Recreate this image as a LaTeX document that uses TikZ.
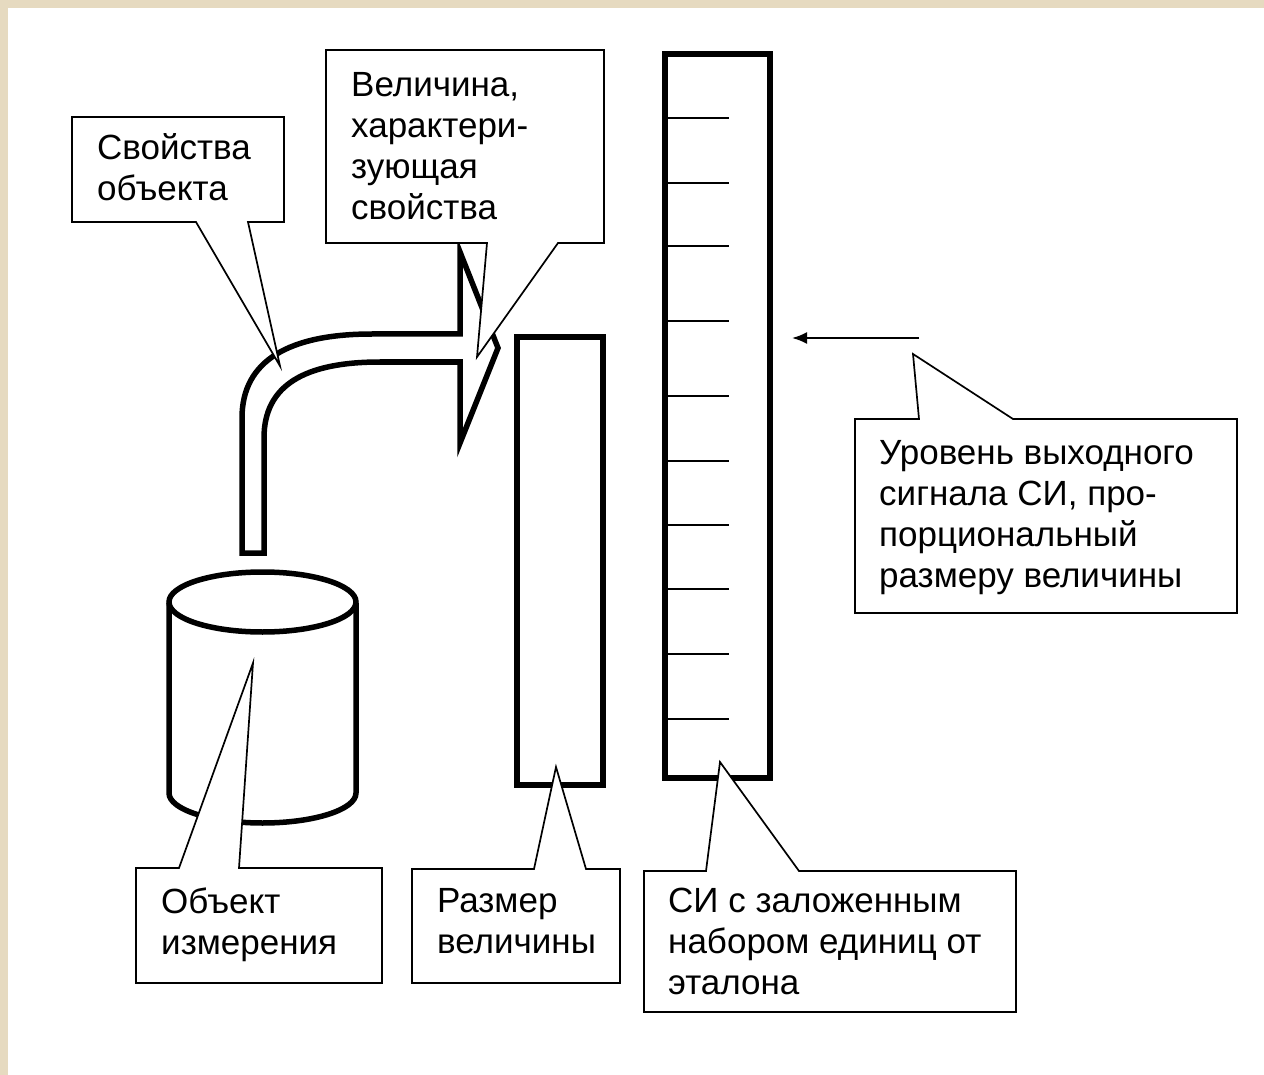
\documentclass[tikz,border=0pt]{standalone}
\usepackage{fontspec}
\setmainfont{Liberation Sans}
\usetikzlibrary{arrows.meta}
\definecolor{beigeframe}{RGB}{230,218,192}
\begin{document}
\begin{tikzpicture}[x=1pt,y=-1pt,
  thick line/.style={draw=black, line width=5.5pt, line join=miter},
  callout/.style={draw=black, fill=white, line width=1.7pt, line join=miter},
  tick/.style={draw=black, line width=2.2pt},
  label/.style={anchor=north west, inner sep=0pt, align=left, font=\fontsize{35}{41}\selectfont}]
\useasboundingbox (0,0) rectangle (1264,1075);
\fill[white] (0,0) rectangle (1264,1075);
\fill[beigeframe] (0,0) rectangle (1264,8);
\fill[beigeframe] (0,0) rectangle (8,1075);

% bent tube arrow
\draw[thick line, fill=white]
  (242,553) -- (242,418) .. controls (242,360) and (290,334) .. (372,334)
  -- (460,334) -- (460,252) -- (498,348) -- (460,443) -- (460,362)
  -- (380,362) .. controls (305,362) and (264,385) .. (264,438)
  -- (264,553) -- cycle;

% size rectangle
\draw[thick line, fill=white] (517,337) rectangle (603,785);

% ruler
\draw[thick line, fill=white] (665,54) rectangle (770,778);
\foreach \ty in {118,183,246,321,396,461,525,589,654,719}
  \draw[tick] (667,\ty) -- (729,\ty);

% cylinder
\draw[thick line, fill=white] (169,603) -- (169,793)
  arc[start angle=180, end angle=0, x radius=93.5, y radius=30]
  -- (356,603);
\draw[thick line, fill=white] (262.5,602) ellipse [x radius=93.5, y radius=30];

% arrow
\coordinate (arrstart) at (919,338);
\coordinate (arrend) at (792,338);
\draw[line width=2pt, -{Latex[length=15pt,width=12pt]}] (arrstart) -- (arrend);

% callouts
\draw[callout] (72,117) -- (284,117) -- (284,222) -- (248,222) -- (280,366)
  -- (196,222) -- (72,222) -- cycle;
\node[label] (prop) at (97,133) {Свойства\\объекта};

\draw[callout] (326,50) -- (604,50) -- (604,243) -- (558,243) -- (477,357)
  -- (487,243) -- (326,243) -- cycle;
\node[label] (qty) at (351,72) {Величина,\\характери-\\зующая\\свойства};

\draw[callout] (855,419) -- (919,419) -- (913,354) -- (1013,419) -- (1237,419)
  -- (1237,613) -- (855,613) -- cycle;
\node[label] (level) at (879,440) {Уровень выходного\\сигнала СИ, про-\\порциональный\\размеру величины};

\draw[callout] (136,868) -- (179,868) -- (253,663) -- (239,868) -- (382,868)
  -- (382,983) -- (136,983) -- cycle;
\node[label] (obj) at (161,888) {Объект\\измерения};

\draw[callout] (412,869) -- (534,869) -- (556,767) -- (586,869) -- (620,869)
  -- (620,983) -- (412,983) -- cycle;
\node[label] (size) at (437,888) {Размер\\величины};

\draw[callout] (644,871) -- (706,871) -- (720,762) -- (799,871) -- (1016,871)
  -- (1016,1012) -- (644,1012) -- cycle;
\node[label] (si) at (668,888) {СИ с заложенным\\набором единиц от\\эталона};
\end{tikzpicture}
\end{document}
